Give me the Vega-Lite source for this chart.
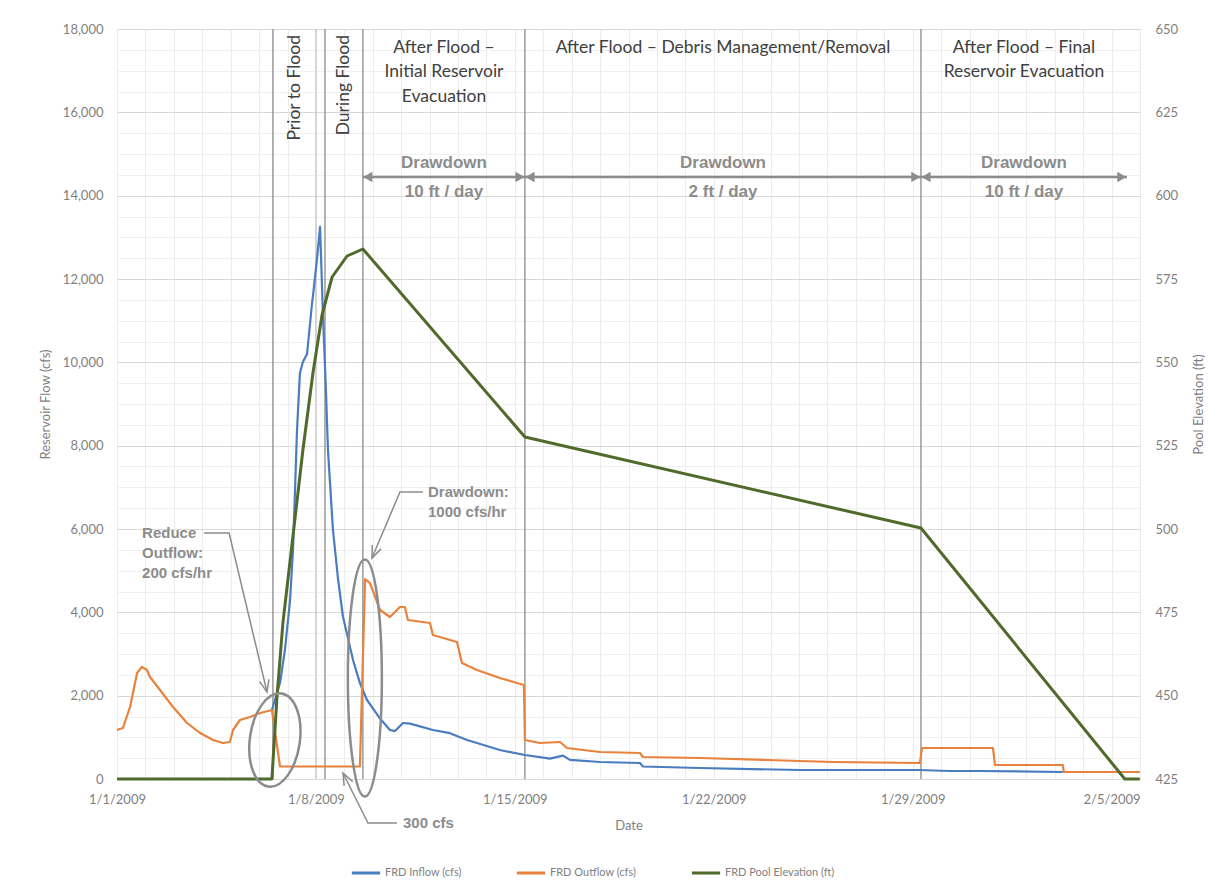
{
  "$schema": "https://vega.github.io/schema/vega-lite/v6.json",
  "width": 1023,
  "height": 750,
  "autosize": {"type": "none"},
  "padding": {"left": 117, "top": 29, "right": 83, "bottom": 105},
  "background": "white",
  "config": {
    "font": "Lato",
    "view": {"stroke": null},
    "axis": {"labelFont": "Lato", "titleFont": "Lato", "labelColor": "#7f7f7f", "titleColor": "#7f7f7f", "titleFontWeight": "normal", "labelFontSize": 13, "titleFontSize": 13, "ticks": false, "domain": false}
  },
  "datasets": {
    "flows": [
      {"date": "2009-01-06T10:50", "series": "FRD Inflow (cfs)", "flow": 1656},
      {"date": "2009-01-06T13:20", "series": "FRD Inflow (cfs)", "flow": 1896},
      {"date": "2009-01-06T17:40", "series": "FRD Inflow (cfs)", "flow": 2304},
      {"date": "2009-01-06T21:50", "series": "FRD Inflow (cfs)", "flow": 3096},
      {"date": "2009-01-07T02:10", "series": "FRD Inflow (cfs)", "flow": 4296},
      {"date": "2009-01-07T04:40", "series": "FRD Inflow (cfs)", "flow": 5496},
      {"date": "2009-01-07T08:00", "series": "FRD Inflow (cfs)", "flow": 8352},
      {"date": "2009-01-07T10:30", "series": "FRD Inflow (cfs)", "flow": 9744},
      {"date": "2009-01-07T13:00", "series": "FRD Inflow (cfs)", "flow": 10008},
      {"date": "2009-01-07T16:30", "series": "FRD Inflow (cfs)", "flow": 10200},
      {"date": "2009-01-07T20:40", "series": "FRD Inflow (cfs)", "flow": 11400},
      {"date": "2009-01-07T21:30", "series": "FRD Inflow (cfs)", "flow": 11592},
      {"date": "2009-01-08T01:00", "series": "FRD Inflow (cfs)", "flow": 12504},
      {"date": "2009-01-08T03:30", "series": "FRD Inflow (cfs)", "flow": 13250},
      {"date": "2009-01-08T06:00", "series": "FRD Inflow (cfs)", "flow": 11100},
      {"date": "2009-01-08T08:30", "series": "FRD Inflow (cfs)", "flow": 9300},
      {"date": "2009-01-08T10:10", "series": "FRD Inflow (cfs)", "flow": 7900},
      {"date": "2009-01-08T14:20", "series": "FRD Inflow (cfs)", "flow": 6000},
      {"date": "2009-01-08T18:40", "series": "FRD Inflow (cfs)", "flow": 4800},
      {"date": "2009-01-08T22:50", "series": "FRD Inflow (cfs)", "flow": 3900},
      {"date": "2009-01-09T07:20", "series": "FRD Inflow (cfs)", "flow": 2856},
      {"date": "2009-01-09T13:10", "series": "FRD Inflow (cfs)", "flow": 2300},
      {"date": "2009-01-09T19:10", "series": "FRD Inflow (cfs)", "flow": 1896},
      {"date": "2009-01-10T06:10", "series": "FRD Inflow (cfs)", "flow": 1450},
      {"date": "2009-01-10T14:30", "series": "FRD Inflow (cfs)", "flow": 1176},
      {"date": "2009-01-10T18:50", "series": "FRD Inflow (cfs)", "flow": 1150},
      {"date": "2009-01-11T01:30", "series": "FRD Inflow (cfs)", "flow": 1344},
      {"date": "2009-01-11T07:30", "series": "FRD Inflow (cfs)", "flow": 1330},
      {"date": "2009-01-12T02:50", "series": "FRD Inflow (cfs)", "flow": 1176},
      {"date": "2009-01-12T17:10", "series": "FRD Inflow (cfs)", "flow": 1100},
      {"date": "2009-01-13T07:40", "series": "FRD Inflow (cfs)", "flow": 936},
      {"date": "2009-01-14T11:20", "series": "FRD Inflow (cfs)", "flow": 696},
      {"date": "2009-01-15T08:30", "series": "FRD Inflow (cfs)", "flow": 576},
      {"date": "2009-01-16T05:40", "series": "FRD Inflow (cfs)", "flow": 490},
      {"date": "2009-01-16T16:40", "series": "FRD Inflow (cfs)", "flow": 560},
      {"date": "2009-01-16T22:30", "series": "FRD Inflow (cfs)", "flow": 460},
      {"date": "2009-01-17T23:50", "series": "FRD Inflow (cfs)", "flow": 408},
      {"date": "2009-01-19T09:40", "series": "FRD Inflow (cfs)", "flow": 384},
      {"date": "2009-01-19T12:10", "series": "FRD Inflow (cfs)", "flow": 300},
      {"date": "2009-01-21T12:20", "series": "FRD Inflow (cfs)", "flow": 264},
      {"date": "2009-01-25T00:50", "series": "FRD Inflow (cfs)", "flow": 216},
      {"date": "2009-01-29T04:30", "series": "FRD Inflow (cfs)", "flow": 216},
      {"date": "2009-01-30T07:30", "series": "FRD Inflow (cfs)", "flow": 192},
      {"date": "2009-01-31T08:50", "series": "FRD Inflow (cfs)", "flow": 192},
      {"date": "2009-02-03T06:50", "series": "FRD Inflow (cfs)", "flow": 168},
      {"date": "2009-01-01T00:00", "series": "FRD Outflow (cfs)", "flow": 1176},
      {"date": "2009-01-01T05:00", "series": "FRD Outflow (cfs)", "flow": 1224},
      {"date": "2009-01-01T11:00", "series": "FRD Outflow (cfs)", "flow": 1728},
      {"date": "2009-01-01T17:00", "series": "FRD Outflow (cfs)", "flow": 2544},
      {"date": "2009-01-01T21:00", "series": "FRD Outflow (cfs)", "flow": 2688},
      {"date": "2009-01-02T01:20", "series": "FRD Outflow (cfs)", "flow": 2616},
      {"date": "2009-01-02T03:50", "series": "FRD Outflow (cfs)", "flow": 2448},
      {"date": "2009-01-02T12:20", "series": "FRD Outflow (cfs)", "flow": 2136},
      {"date": "2009-01-02T23:20", "series": "FRD Outflow (cfs)", "flow": 1728},
      {"date": "2009-01-03T11:10", "series": "FRD Outflow (cfs)", "flow": 1344},
      {"date": "2009-01-03T22:10", "series": "FRD Outflow (cfs)", "flow": 1104},
      {"date": "2009-01-04T09:10", "series": "FRD Outflow (cfs)", "flow": 936},
      {"date": "2009-01-04T17:30", "series": "FRD Outflow (cfs)", "flow": 864},
      {"date": "2009-01-04T23:20", "series": "FRD Outflow (cfs)", "flow": 888},
      {"date": "2009-01-05T02:00", "series": "FRD Outflow (cfs)", "flow": 1176},
      {"date": "2009-01-05T07:50", "series": "FRD Outflow (cfs)", "flow": 1416},
      {"date": "2009-01-05T16:20", "series": "FRD Outflow (cfs)", "flow": 1488},
      {"date": "2009-01-06T00:50", "series": "FRD Outflow (cfs)", "flow": 1584},
      {"date": "2009-01-06T10:50", "series": "FRD Outflow (cfs)", "flow": 1656},
      {"date": "2009-01-06T17:40", "series": "FRD Outflow (cfs)", "flow": 300},
      {"date": "2009-01-09T13:10", "series": "FRD Outflow (cfs)", "flow": 300},
      {"date": "2009-01-09T17:30", "series": "FRD Outflow (cfs)", "flow": 4800},
      {"date": "2009-01-09T21:40", "series": "FRD Outflow (cfs)", "flow": 4700},
      {"date": "2009-01-10T06:10", "series": "FRD Outflow (cfs)", "flow": 4056},
      {"date": "2009-01-10T14:30", "series": "FRD Outflow (cfs)", "flow": 3888},
      {"date": "2009-01-10T23:00", "series": "FRD Outflow (cfs)", "flow": 4128},
      {"date": "2009-01-11T03:10", "series": "FRD Outflow (cfs)", "flow": 4128},
      {"date": "2009-01-11T05:40", "series": "FRD Outflow (cfs)", "flow": 3816},
      {"date": "2009-01-12T00:20", "series": "FRD Outflow (cfs)", "flow": 3744},
      {"date": "2009-01-12T02:50", "series": "FRD Outflow (cfs)", "flow": 3456},
      {"date": "2009-01-12T23:10", "series": "FRD Outflow (cfs)", "flow": 3288},
      {"date": "2009-01-13T03:20", "series": "FRD Outflow (cfs)", "flow": 2784},
      {"date": "2009-01-13T16:00", "series": "FRD Outflow (cfs)", "flow": 2616},
      {"date": "2009-01-14T11:20", "series": "FRD Outflow (cfs)", "flow": 2424},
      {"date": "2009-01-15T07:40", "series": "FRD Outflow (cfs)", "flow": 2256},
      {"date": "2009-01-15T08:30", "series": "FRD Outflow (cfs)", "flow": 936},
      {"date": "2009-01-15T21:10", "series": "FRD Outflow (cfs)", "flow": 864},
      {"date": "2009-01-16T14:10", "series": "FRD Outflow (cfs)", "flow": 888},
      {"date": "2009-01-16T20:00", "series": "FRD Outflow (cfs)", "flow": 744},
      {"date": "2009-01-17T23:50", "series": "FRD Outflow (cfs)", "flow": 648},
      {"date": "2009-01-19T09:40", "series": "FRD Outflow (cfs)", "flow": 624},
      {"date": "2009-01-19T12:10", "series": "FRD Outflow (cfs)", "flow": 528},
      {"date": "2009-01-21T12:20", "series": "FRD Outflow (cfs)", "flow": 504},
      {"date": "2009-01-23T21:00", "series": "FRD Outflow (cfs)", "flow": 456},
      {"date": "2009-01-26T04:40", "series": "FRD Outflow (cfs)", "flow": 408},
      {"date": "2009-01-29T06:10", "series": "FRD Outflow (cfs)", "flow": 384},
      {"date": "2009-01-29T07:50", "series": "FRD Outflow (cfs)", "flow": 744},
      {"date": "2009-01-31T19:50", "series": "FRD Outflow (cfs)", "flow": 744},
      {"date": "2009-01-31T21:30", "series": "FRD Outflow (cfs)", "flow": 336},
      {"date": "2009-02-03T06:50", "series": "FRD Outflow (cfs)", "flow": 336},
      {"date": "2009-02-03T07:40", "series": "FRD Outflow (cfs)", "flow": 168},
      {"date": "2009-02-05T23:50", "series": "FRD Outflow (cfs)", "flow": 168}
    ],
    "pool": [
      {"date": "2009-01-01T00:00", "series": "FRD Pool Elevation (ft)", "elev": 425},
      {"date": "2009-01-06T10:50", "series": "FRD Pool Elevation (ft)", "elev": 425},
      {"date": "2009-01-06T15:10", "series": "FRD Pool Elevation (ft)", "elev": 449.9},
      {"date": "2009-01-06T20:10", "series": "FRD Pool Elevation (ft)", "elev": 472},
      {"date": "2009-01-07T04:40", "series": "FRD Pool Elevation (ft)", "elev": 498},
      {"date": "2009-01-07T13:00", "series": "FRD Pool Elevation (ft)", "elev": 523.7},
      {"date": "2009-01-07T21:30", "series": "FRD Pool Elevation (ft)", "elev": 546.8},
      {"date": "2009-01-08T05:10", "series": "FRD Pool Elevation (ft)", "elev": 564.2},
      {"date": "2009-01-08T13:40", "series": "FRD Pool Elevation (ft)", "elev": 575.6},
      {"date": "2009-01-09T02:20", "series": "FRD Pool Elevation (ft)", "elev": 581.9},
      {"date": "2009-01-09T15:40", "series": "FRD Pool Elevation (ft)", "elev": 584},
      {"date": "2009-01-15T08:30", "series": "FRD Pool Elevation (ft)", "elev": 527.6},
      {"date": "2009-01-29T07:00", "series": "FRD Pool Elevation (ft)", "elev": 500.3},
      {"date": "2009-02-05T11:10", "series": "FRD Pool Elevation (ft)", "elev": 425},
      {"date": "2009-02-05T23:50", "series": "FRD Pool Elevation (ft)", "elev": 425}
    ]
  },
  "encoding": {
    "x": {"field": "date", "type": "temporal",
      "scale": {"domain": [{"year": 2009, "month": 1, "date": 1}, {"year": 2009, "month": 2, "date": 6}]},
      "axis": {"title": "Date", "tickCount": {"interval": "day", "step": 1}, "labelExpr": "round((+datum.value - +datetime(2009,0,1)) / 86400000) % 7 === 0 ? timeFormat(datum.value, '%-m/%-d/%Y') : ''", "labelFlush": false, "labelOverlap": false, "labelBound": false, "grid": true, "gridColor": "#ececec", "domain": true, "domainColor": "#d9d9d9", "ticks": false, "labelPadding": 14, "titlePadding": 13}}
  },
  "layer": [
    {
      "layer": [
        {
          "data": {"values": [{"date": "2009-01-06T11:40"}, {"date": "2009-01-08T07:40"}, {"date": "2009-01-09T15:40"}, {"date": "2009-01-15T08:30"}, {"date": "2009-01-29T07:00"}]},
          "mark": {"type": "rule", "color": "#8a8a8a", "strokeWidth": 1.3}
        },
        {
          "data": {"values": [{"date": "2009-01-08T00:00"}]},
          "mark": {"type": "rule", "color": "#c4c4c4", "strokeWidth": 1.3}
        },
        {
          "data": {"name": "flows"},
          "mark": {"type": "line", "strokeWidth": 2.2, "strokeJoin": "round"},
          "encoding": {
            "y": {"field": "flow", "type": "quantitative", "scale": {"domain": [0, 18000], "nice": false},
              "axis": {"title": "Reservoir Flow (cfs)", "values": [0,500,1000,1500,2000,2500,3000,3500,4000,4500,5000,5500,6000,6500,7000,7500,8000,8500,9000,9500,10000,10500,11000,11500,12000,12500,13000,13500,14000,14500,15000,15500,16000,16500,17000,17500,18000], "labelExpr": "datum.value % 2000 === 0 ? format(datum.value, ',') : ''", "labelOverlap": false, "grid": true, "gridColor": {"condition": {"test": "datum.value % 2000 === 0", "value": "#d9d9d9"}, "value": "#f0f0f0"}, "labelPadding": 14, "titlePadding": 10}},
            "color": {"field": "series", "type": "nominal",
              "scale": {"domain": ["FRD Inflow (cfs)", "FRD Outflow (cfs)", "FRD Pool Elevation (ft)"], "range": ["#4a7cc0", "#e8823c", "#4f6a2a"]},
              "legend": {"title": null, "orient": "none", "legendX": 233, "legendY": 828, "direction": "horizontal", "symbolType": "stroke", "symbolSize": 800, "symbolStrokeWidth": 3, "labelFontSize": 11, "labelColor": "#7f7f7f", "labelFont": "Lato", "columnPadding": 48, "labelOffset": 3}}
          }
        }
      ]
    },
    {
      "data": {"name": "pool"},
      "mark": {"type": "line", "strokeWidth": 3, "strokeJoin": "round"},
      "encoding": {
        "y": {"field": "elev", "type": "quantitative", "scale": {"domain": [425, 650], "nice": false, "zero": false},
          "axis": {"orient": "right", "title": "Pool Elevation (ft)", "values": [425,450,475,500,525,550,575,600,625,650], "grid": false, "labelOverlap": false, "labelPadding": 15, "titlePadding": 28, "titleAngle": 270}},
        "color": {"field": "series", "type": "nominal",
          "scale": {"domain": ["FRD Inflow (cfs)", "FRD Outflow (cfs)", "FRD Pool Elevation (ft)"], "range": ["#4a7cc0", "#e8823c", "#4f6a2a"]},
          "legend": {"title": null, "orient": "none", "legendX": 233, "legendY": 828, "direction": "horizontal", "symbolType": "stroke", "symbolSize": 800, "symbolStrokeWidth": 3, "labelFontSize": 11, "labelColor": "#7f7f7f", "labelFont": "Lato", "columnPadding": 48, "labelOffset": 3}}
      }
    },
    {
      "encoding": {
        "y": {"field": "flow", "type": "quantitative", "scale": {"domain": [0, 18000], "nice": false}, "axis": null}
      },
      "layer": [
        {
          "data": {"values": [{"date": "2009-01-06T13:20", "flow": 936}]},
          "mark": {"type": "point", "shape": "M -0.532 0 A 0.532 1 0 1 0 0.532 0 A 0.532 1 0 1 0 -0.532 0 Z", "size": 8836, "filled": false, "stroke": "#8c8c8c", "strokeWidth": 2.5, "opacity": 1, "angle": 8}
        },
        {
          "data": {"values": [{"date": "2009-01-09T17:20", "flow": 2424}]},
          "mark": {"type": "point", "shape": "M -0.1435 0 A 0.1435 1 0 1 0 0.1435 0 A 0.1435 1 0 1 0 -0.1435 0 Z", "size": 56169, "filled": false, "stroke": "#8c8c8c", "strokeWidth": 2.5, "opacity": 1}
        },
        {
          "data": {"values": [
            {"id": "reduce", "seq": 1, "date": "2009-01-04T01:30", "flow": 5904},
            {"id": "reduce", "seq": 2, "date": "2009-01-04T22:40", "flow": 5904},
            {"id": "reduce", "seq": 3, "date": "2009-01-06T06:40", "flow": 2088},
            {"id": "drawdown", "seq": 1, "date": "2009-01-11T18:20", "flow": 6888},
            {"id": "drawdown", "seq": 2, "date": "2009-01-10T23:00", "flow": 6888},
            {"id": "drawdown", "seq": 3, "date": "2009-01-09T23:20", "flow": 5304},
            {"id": "min", "seq": 1, "date": "2009-01-10T20:30", "flow": -1056},
            {"id": "min", "seq": 2, "date": "2009-01-09T20:00", "flow": -1056},
            {"id": "min", "seq": 3, "date": "2009-01-08T22:50", "flow": 144}
          ]},
          "mark": {"type": "line", "color": "#8c8c8c", "strokeWidth": 1.5},
          "encoding": {"detail": {"field": "id"}, "order": {"field": "seq", "type": "quantitative"}}
        },
        {
          "data": {"values": [{"date": "2009-01-06T05:30", "flow": 2227}]},
          "mark": {"type": "point", "shape": "M -0.8 1 L 0 -1 L 0.8 1", "size": 144, "filled": false, "stroke": "#8c8c8c", "strokeWidth": 1.5, "opacity": 1, "angle": 167}
        },
        {
          "data": {"values": [{"date": "2009-01-10T01:20", "flow": 5436}]},
          "mark": {"type": "point", "shape": "M -0.8 1 L 0 -1 L 0.8 1", "size": 144, "filled": false, "stroke": "#8c8c8c", "strokeWidth": 1.5, "opacity": 1, "angle": 203}
        },
        {
          "data": {"values": [{"date": "2009-01-09T01:10", "flow": 14}]},
          "mark": {"type": "point", "shape": "M -0.8 1 L 0 -1 L 0.8 1", "size": 144, "filled": false, "stroke": "#8c8c8c", "strokeWidth": 1.5, "opacity": 1, "angle": 333}
        },
        {
          "data": {"values": [
            {"date": "2009-01-09T15:40", "date2": "2009-01-15T08:30", "flow": 14448},
            {"date": "2009-01-15T08:30", "date2": "2009-01-29T07:00", "flow": 14448},
            {"date": "2009-01-29T07:00", "date2": "2009-02-05T13:00", "flow": 14448}
          ]},
          "mark": {"type": "rule", "color": "#8c8c8c", "strokeWidth": 2.5},
          "encoding": {"x2": {"field": "date2"}}
        },
        {
          "data": {"values": [{"date": "2009-01-09T19:50", "flow": 14448}, {"date": "2009-01-15T12:50", "flow": 14448}, {"date": "2009-01-29T11:20", "flow": 14448}]},
          "mark": {"type": "point", "shape": "triangle-left", "size": 110, "filled": true, "color": "#8c8c8c", "opacity": 1}
        },
        {
          "data": {"values": [{"date": "2009-01-15T04:20", "flow": 14448}, {"date": "2009-01-29T02:40", "flow": 14448}, {"date": "2009-02-05T08:40", "flow": 14448}]},
          "mark": {"type": "point", "shape": "triangle-right", "size": 110, "filled": true, "color": "#8c8c8c", "opacity": 1}
        },
        {
          "data": {"values": [
            {"date": "2009-01-12T12:10", "flow": 17544, "label": "After Flood –"},
            {"date": "2009-01-12T12:10", "flow": 16968, "label": "Initial Reservoir"},
            {"date": "2009-01-12T12:10", "flow": 16368, "label": "Evacuation"},
            {"date": "2009-01-22T07:50", "flow": 17544, "label": "After Flood – Debris Management/Removal"},
            {"date": "2009-02-01T22:00", "flow": 17544, "label": "After Flood – Final"},
            {"date": "2009-02-01T22:00", "flow": 16968, "label": "Reservoir Evacuation"}
          ]},
          "mark": {"type": "text", "align": "center", "baseline": "middle", "font": "Lato", "fontSize": 17.5, "color": "#404040"},
          "encoding": {"text": {"field": "label"}}
        },
        {
          "data": {"values": [
            {"date": "2009-01-07T06:20", "flow": 17856, "label": "Prior to Flood"},
            {"date": "2009-01-08T23:40", "flow": 17856, "label": "During Flood"}
          ]},
          "mark": {"type": "text", "align": "right", "baseline": "middle", "angle": 270, "font": "Lato", "fontSize": 17.5, "color": "#404040"},
          "encoding": {"text": {"field": "label"}}
        },
        {
          "data": {"values": [
            {"date": "2009-01-12T12:10", "flow": 14784, "label": "Drawdown"},
            {"date": "2009-01-12T12:10", "flow": 14088, "label": "10 ft / day"},
            {"date": "2009-01-22T07:50", "flow": 14784, "label": "Drawdown"},
            {"date": "2009-01-22T07:50", "flow": 14088, "label": "2 ft / day"},
            {"date": "2009-02-01T22:00", "flow": 14784, "label": "Drawdown"},
            {"date": "2009-02-01T22:00", "flow": 14088, "label": "10 ft / day"}
          ]},
          "mark": {"type": "text", "align": "center", "baseline": "middle", "font": "Liberation Sans", "fontWeight": "bold", "fontSize": 17, "color": "#8c8c8c"},
          "encoding": {"text": {"field": "label"}}
        },
        {
          "data": {"values": [
            {"date": "2009-01-01T21:10", "flow": 5904, "label": "Reduce"},
            {"date": "2009-01-01T21:10", "flow": 5424, "label": "Outflow:"},
            {"date": "2009-01-01T21:10", "flow": 4944, "label": "200 cfs/hr"},
            {"date": "2009-01-11T22:40", "flow": 6888, "label": "Drawdown:"},
            {"date": "2009-01-11T22:40", "flow": 6408, "label": "1000 cfs/hr"},
            {"date": "2009-01-11T01:30", "flow": -1056, "label": "300 cfs"}
          ]},
          "mark": {"type": "text", "align": "left", "baseline": "middle", "font": "Liberation Sans", "fontWeight": "bold", "fontSize": 15, "color": "#8c8c8c"},
          "encoding": {"text": {"field": "label"}}
        }
      ]
    }
  ],
  "resolve": {"scale": {"y": "independent"}}
}
